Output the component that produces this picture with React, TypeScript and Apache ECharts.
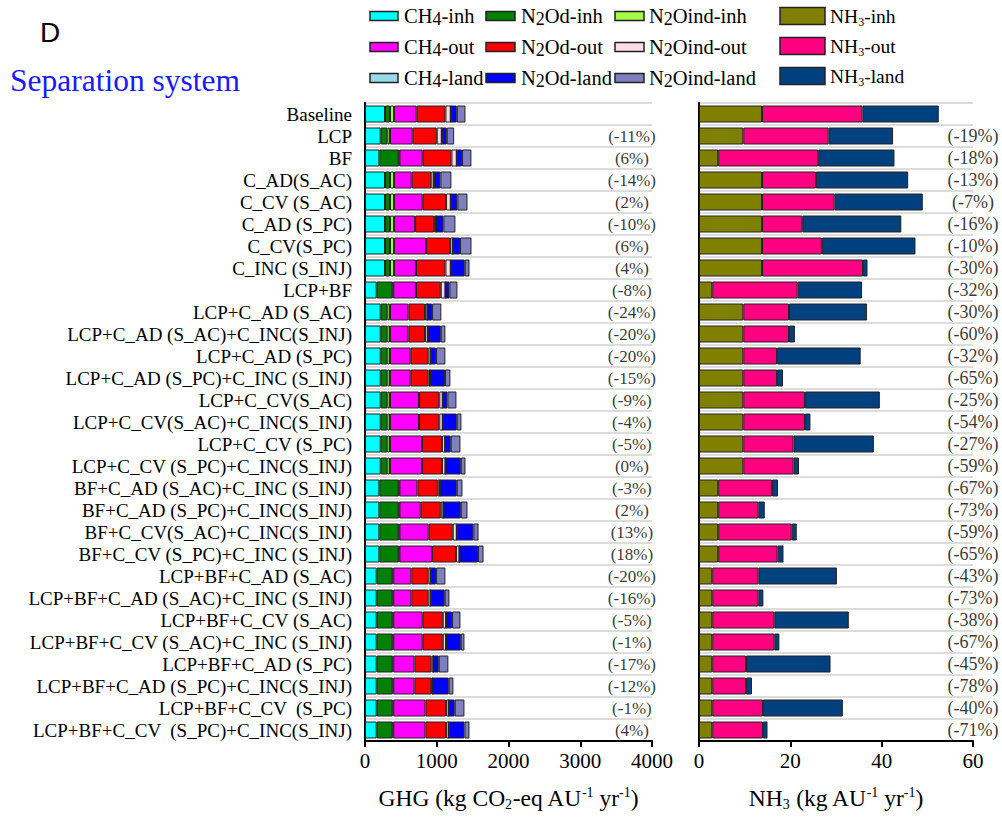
import React, { useEffect, useRef } from "react";
import * as echarts from "echarts";

const categories = [
  "Baseline",
  "LCP",
  "BF",
  "C_AD(S_AC)",
  "C_CV (S_AC)",
  "C_AD (S_PC)",
  "C_CV(S_PC)",
  "C_INC (S_INJ)",
  "LCP+BF",
  "LCP+C_AD (S_AC)",
  "LCP+C_AD (S_AC)+C_INC(S_INJ)",
  "LCP+C_AD (S_PC)",
  "LCP+C_AD (S_PC)+C_INC (S_INJ)",
  "LCP+C_CV(S_AC)",
  "LCP+C_CV(S_AC)+C_INC(S_INJ)",
  "LCP+C_CV (S_PC)",
  "LCP+C_CV (S_PC)+C_INC(S_INJ)",
  "BF+C_AD (S_AC)+C_INC (S_INJ)",
  "BF+C_AD (S_PC)+C_INC(S_INJ)",
  "BF+C_CV(S_AC)+C_INC(S_INJ)",
  "BF+C_CV (S_PC)+C_INC (S_INJ)",
  "LCP+BF+C_AD (S_AC)",
  "LCP+BF+C_AD (S_AC)+C_INC (S_INJ)",
  "LCP+BF+C_CV (S_AC)",
  "LCP+BF+C_CV (S_AC)+C_INC (S_INJ)",
  "LCP+BF+C_AD (S_PC)",
  "LCP+BF+C_AD (S_PC)+C_INC(S_INJ)",
  "LCP+BF+C_CV  (S_PC)",
  "LCP+BF+C_CV  (S_PC)+C_INC(S_INJ)",
];

// GHG components (kg CO2-eq AU-1 yr-1)
const ch4Inh = [279, 219, 200, 279, 279, 279, 279, 279, 163, 219, 219, 219, 219, 219, 219, 219, 219, 200, 200, 200, 200, 163, 163, 163, 163, 163, 163, 163, 163];
const n2odInh = [70, 92, 270, 70, 70, 70, 70, 70, 222, 92, 92, 92, 92, 92, 92, 92, 92, 270, 270, 270, 270, 222, 222, 222, 222, 222, 222, 222, 222];
const n2oindInh = [56, 38, 10, 56, 56, 56, 56, 56, 10, 38, 38, 38, 38, 38, 38, 38, 38, 10, 10, 10, 10, 10, 10, 10, 10, 10, 10, 10, 10];
const ch4Out = [316, 316, 325, 246, 400, 293, 446, 306, 316, 255, 255, 288, 288, 404, 404, 446, 446, 250, 297, 408, 455, 251, 251, 410, 410, 293, 293, 447, 447];
const n2odOut = [400, 335, 400, 274, 325, 265, 335, 410, 345, 233, 233, 246, 246, 282, 282, 279, 279, 284, 279, 335, 334, 237, 237, 279, 279, 237, 237, 288, 288];
const n2oindOut = [74, 70, 74, 38, 65, 27, 37, 74, 65, 33, 38, 33, 24, 49, 49, 42, 47, 32, 37, 56, 47, 33, 33, 46, 46, 28, 14, 37, 37];
const ch4Land = [0, 0, 0, 0, 0, 0, 0, 0, 0, 0, 0, 0, 0, 0, 0, 0, 0, 0, 0, 0, 0, 0, 0, 0, 0, 0, 0, 0, 0];
const n2odLand = [84, 70, 74, 88, 93, 103, 102, 195, 56, 65, 181, 75, 209, 65, 195, 79, 214, 233, 242, 232, 260, 75, 195, 84, 205, 75, 228, 84, 219];
const n2oindLand = [121, 102, 130, 153, 140, 167, 159, 66, 111, 129, 64, 129, 74, 125, 65, 135, 65, 79, 93, 71, 76, 129, 65, 116, 51, 134, 65, 135, 70];

// NH3 components (kg AU-1 yr-1)
const nh3Inh = [13.8, 9.7, 4.2, 13.8, 13.8, 13.8, 13.8, 13.8, 2.9, 9.7, 9.7, 9.7, 9.7, 9.7, 9.7, 9.7, 9.7, 4.2, 4.2, 4.2, 4.2, 2.9, 2.9, 2.9, 2.9, 2.9, 2.9, 2.9, 2.9];
const nh3Out = [22.0, 18.7, 21.9, 11.8, 15.9, 8.8, 13.1, 22.1, 18.7, 10.0, 10.0, 7.4, 7.4, 13.5, 13.5, 11.0, 11.0, 11.8, 8.8, 16.1, 13.0, 10.1, 10.1, 13.6, 13.6, 7.4, 7.4, 11.1, 11.1];
const nh3Land = [16.7, 14.1, 16.7, 20.2, 19.3, 21.7, 20.5, 1.0, 14.1, 17.1, 1.3, 18.3, 1.3, 16.4, 1.2, 17.6, 1.2, 1.3, 1.4, 1.1, 1.3, 17.2, 1.1, 16.3, 1.1, 18.5, 1.3, 17.5, 1.0];

const ghgChange = ["", "(-11%)", "(6%)", "(-14%)", "(2%)", "(-10%)", "(6%)", "(4%)", "(-8%)", "(-24%)", "(-20%)", "(-20%)", "(-15%)", "(-9%)", "(-4%)", "(-5%)", "(0%)", "(-3%)", "(2%)", "(13%)", "(18%)", "(-20%)", "(-16%)", "(-5%)", "(-1%)", "(-17%)", "(-12%)", "(-1%)", "(4%)"];
const nh3Change = ["", "(-19%)", "(-18%)", "(-13%)", "(-7%)", "(-16%)", "(-10%)", "(-30%)", "(-32%)", "(-30%)", "(-60%)", "(-32%)", "(-65%)", "(-25%)", "(-54%)", "(-27%)", "(-59%)", "(-67%)", "(-73%)", "(-59%)", "(-65%)", "(-43%)", "(-73%)", "(-38%)", "(-67%)", "(-45%)", "(-78%)", "(-40%)", "(-71%)"];

const ghgTicks = [0, 1000, 2000, 3000, 4000];
const nh3Ticks = [0, 20, 40, 60];

const SERIF = "'Liberation Serif', 'Times New Roman', serif";

const ghgSeries = [
  { name: "CH4-inh", data: ch4Inh, color: "#00FFFF" },
  { name: "N2Od-inh", data: n2odInh, color: "#008000" },
  { name: "N2Oind-inh", data: n2oindInh, color: "#A3FF47" },
  { name: "CH4-out", data: ch4Out, color: "#FF00FF" },
  { name: "N2Od-out", data: n2odOut, color: "#FF0000" },
  { name: "N2Oind-out", data: n2oindOut, color: "#FFDDE6" },
  { name: "CH4-land", data: ch4Land, color: "#99D9EA" },
  { name: "N2Od-land", data: n2odLand, color: "#0000FF" },
  { name: "N2Oind-land", data: n2oindLand, color: "#8080C0" },
];
const nh3Series = [
  { name: "NH3-inh", data: nh3Inh, color: "#808000" },
  { name: "NH3-out", data: nh3Out, color: "#FF0080" },
  { name: "NH3-land", data: nh3Land, color: "#00407F" },
];

const legendLabel: Record<string, string> = {
  "CH4-inh": "{m|CH}{s|4}{m|-inh}",
  "CH4-out": "{m|CH}{s|4}{m|-out}",
  "CH4-land": "{m|CH}{s|4}{m|-land}",
  "N2Od-inh": "{m|N}{s|2}{m|Od-inh}",
  "N2Od-out": "{m|N}{s|2}{m|Od-out}",
  "N2Od-land": "{m|N}{s|2}{m|Od-land}",
  "N2Oind-inh": "{m|N}{s|2}{m|Oind-inh}",
  "N2Oind-out": "{m|N}{s|2}{m|Oind-out}",
  "N2Oind-land": "{m|N}{s|2}{m|Oind-land}",
  "NH3-inh": "{n|NH}{t|3}{n|-inh}",
  "NH3-out": "{n|NH}{t|3}{n|-out}",
  "NH3-land": "{n|NH}{t|3}{n|-land}",
};

// legend layout: columns of names
const legendColumns = [
  ["CH4-inh", "CH4-out", "CH4-land"],
  ["N2Od-inh", "N2Od-out", "N2Od-land"],
  ["N2Oind-inh", "N2Oind-out", "N2Oind-land"],
  ["NH3-inh", "NH3-out", "NH3-land"],
];

export default function App() {
  const ref = useRef<HTMLDivElement>(null);
  useEffect(() => {
    if (!ref.current) return;
    const chart = echarts.init(ref.current, null, { renderer: "svg" });
    const colorOf: Record<string, string> = {};
    [...ghgSeries, ...nh3Series].forEach((s) => (colorOf[s.name] = s.color));

    const colX = [370, 486, 615, 780];
    const colSw = [
      { w: 28, h: 9 },
      { w: 29, h: 9 },
      { w: 29, h: 9 },
      { w: 45, h: 17 },
    ];
    const colText = [404, 521, 649, 830];
    const rowY = [16, 47, 78];
    const rowY4 = [16, 46, 76];
    const legendRich = {
      m: { fontFamily: SERIF, fontSize: 20.5, lineHeight: 24, color: "#000" },
      n: { fontFamily: SERIF, fontSize: 19.5, lineHeight: 24, color: "#000" },
      s: { fontFamily: SERIF, fontSize: 18, lineHeight: 12, verticalAlign: "bottom", color: "#000" },
      t: { fontFamily: SERIF, fontSize: 12, lineHeight: 8, verticalAlign: "bottom", color: "#000" },
    };
    const graphics: any[] = [];
    legendColumns.forEach((col, ci) => {
      col.forEach((name, ri) => {
        const cy = ci === 3 ? rowY4[ri] : rowY[ri];
        graphics.push({
          type: "rect",
          shape: { x: colX[ci], y: cy - colSw[ci].h / 2, width: colSw[ci].w, height: colSw[ci].h },
          style: { fill: colorOf[name], stroke: "#222", lineWidth: 1.5 },
        });
        graphics.push({
          type: "text",
          x: colText[ci],
          y: cy,
          style: {
            text: legendLabel[name],
            rich: legendRich,
            align: "left",
            verticalAlign: "middle",
          },
        });
      });
    });
    graphics.push({
      type: "text",
      x: 40,
      y: 32,
      style: { text: "D", font: "28px 'Liberation Sans', Arial, sans-serif", fill: "#000", verticalAlign: "middle" },
    });
    graphics.push({
      type: "text",
      x: 10,
      y: 80,
      style: { text: "Separation system", font: `31.5px ${SERIF}`, fill: "#1a1aff", verticalAlign: "middle" },
    });

    const axisNameRich = {
      m: { fontFamily: SERIF, fontSize: 23.5, lineHeight: 26, color: "#000" },
      s: { fontFamily: SERIF, fontSize: 14, lineHeight: 10, verticalAlign: "bottom", color: "#000" },
      p: { fontFamily: SERIF, fontSize: 14, lineHeight: 12, verticalAlign: "top", color: "#000" },
    };

    const xAxisCommon = {
      type: "value",
      nameLocation: "middle",
      nameGap: 44,
      axisLine: { show: true, lineStyle: { color: "#000", width: 2 } },
      axisTick: { show: true, length: 6, lineStyle: { color: "#000", width: 2 } },
      splitLine: { show: false },
      axisLabel: {
        fontFamily: SERIF,
        fontSize: 21,
        color: "#000",
        margin: 9,
        formatter: (v: number) => String(v),
      },
    };
    const yAxisCommon = {
      type: "category",
      data: categories,
      inverse: true,
      axisLine: { show: true, lineStyle: { color: "#000", width: 2 } },
      axisTick: { show: false },
      splitLine: { show: true, interval: 0, lineStyle: { color: "#dcdcdc", width: 2 } },
    };

    const option: any = {
      animation: false,
      backgroundColor: "#fff",
      grid: [
        { left: 365, top: 103, width: 287, height: 638 },
        { left: 699, top: 103, width: 274, height: 638 },
      ],
      xAxis: [
        {
          ...xAxisCommon,
          gridIndex: 0,
          min: ghgTicks[0],
          max: ghgTicks[ghgTicks.length - 1],
          interval: ghgTicks[1] - ghgTicks[0],
          name: "{m|GHG (kg CO}{s|2}{m|-eq AU}{p|-1}{m| yr}{p|-1}{m|)}",
          nameTextStyle: { rich: axisNameRich, lineHeight: 26 },
        },
        {
          ...xAxisCommon,
          gridIndex: 1,
          min: nh3Ticks[0],
          max: nh3Ticks[nh3Ticks.length - 1],
          interval: nh3Ticks[1] - nh3Ticks[0],
          name: "{m|NH}{s|3}{m| (kg AU}{p|-1}{m| yr}{p|-1}{m|)}",
          nameTextStyle: { rich: axisNameRich, lineHeight: 26 },
        },
      ],
      yAxis: [
        {
          ...yAxisCommon,
          gridIndex: 0,
          axisLabel: { interval: 0, fontFamily: SERIF, fontSize: 19, color: "#000", margin: 13 },
        },
        {
          ...yAxisCommon,
          gridIndex: 1,
          axisLabel: { show: false },
        },
      ],
      graphic: graphics,
      series: [
        ...ghgSeries.map((s) => ({
          type: "bar",
          name: s.name,
          stack: "ghg",
          xAxisIndex: 0,
          yAxisIndex: 0,
          barWidth: 17,
          data: s.data,
          itemStyle: { color: s.color, borderColor: "#222", borderWidth: 1 },
        })),
        ...nh3Series.map((s) => ({
          type: "bar",
          name: s.name,
          stack: "nh3",
          xAxisIndex: 1,
          yAxisIndex: 1,
          barWidth: 17,
          data: s.data,
          itemStyle: { color: s.color, borderColor: "#222", borderWidth: 1 },
        })),
        {
          type: "scatter",
          name: "ghgChange",
          xAxisIndex: 0,
          yAxisIndex: 0,
          symbolSize: 1,
          itemStyle: { color: "transparent" },
          clip: false,
          data: ghgChange.map((t, i) => [3720, i, t]),
          label: {
            show: true,
            position: "inside",
            formatter: (p: any) => p.data[2],
            fontFamily: SERIF,
            fontSize: 17,
            color: "#000",
          },
        },
        {
          type: "scatter",
          name: "nh3Change",
          xAxisIndex: 1,
          yAxisIndex: 1,
          symbolSize: 1,
          itemStyle: { color: "transparent" },
          clip: false,
          data: nh3Change.map((t, i) => [60, i, t]),
          label: {
            show: true,
            position: "inside",
            formatter: (p: any) => p.data[2],
            fontFamily: SERIF,
            fontSize: 18,
            color: "#000",
          },
        },
      ],
    };
    chart.setOption(option);
    return () => chart.dispose();
  }, []);
  return (
    <div
      ref={ref}
      style={{ position: "absolute", left: 0, top: 0, width: 1002, height: 818, background: "#fff" }}
    />
  );
}
